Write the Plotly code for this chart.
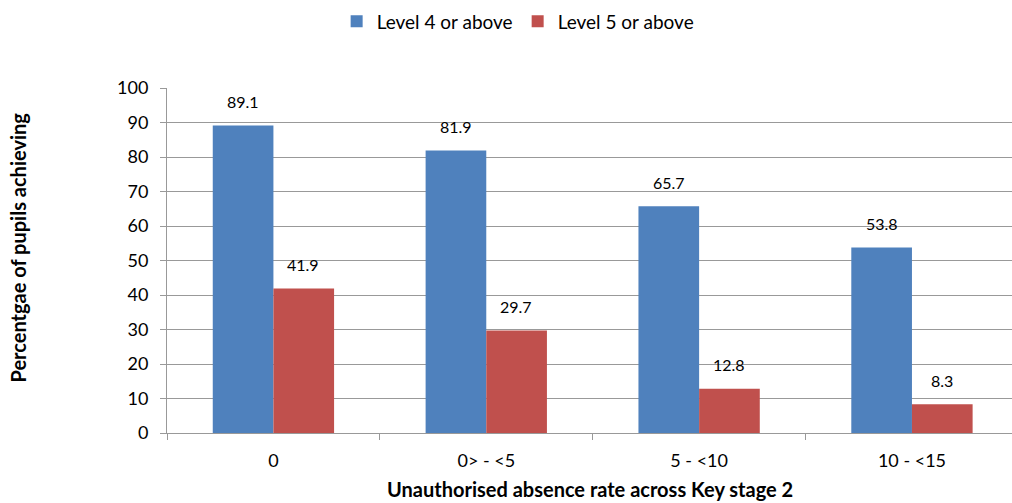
import plotly.graph_objects as go

categories = ["0", "0> - <5", "5 - <10", "10 - <15"]
level4 = [89.1, 81.9, 65.7, 53.8]
level5 = [41.9, 29.7, 12.8, 8.3]
series_names = ["Level 4 or above", "Level 5 or above"]
colors = ["#4F81BD", "#C0504D"]
x_title = "Unauthorised absence rate across Key stage 2"
y_title = "Percentgae of pupils achieving"

FONT = "Lato, Open Sans, sans-serif"

fig = go.Figure()
for name, vals, col in zip(series_names, [level4, level5], colors):
    fig.add_trace(go.Bar(x=categories, y=vals, name=name, marker_color=col,
                         marker_line_width=0))

for vals, xs in [(level4, -30), (level5, 30)]:
    for c, v in zip(categories, vals):
        fig.add_annotation(x=c, y=v, text=f"{v}", showarrow=False,
                           xshift=xs, yshift=24, font=dict(size=16, color="#000"))

# axis titles
fig.add_annotation(text=f"<b>{x_title}</b>", xref="paper", yref="paper",
                   x=0.5, y=0, xanchor="center", yanchor="middle", yshift=-56,
                   showarrow=False, font=dict(size=20))
fig.add_annotation(text=f"<b>{y_title}</b>", xref="paper", yref="paper",
                   x=0, y=0.5, xanchor="center", yanchor="middle",
                   xshift=-150, yshift=13, textangle=-90,
                   showarrow=False, font=dict(size=20))

fig.update_layout(
    width=1012, height=503,
    margin=dict(l=167, r=0, t=88, b=70, autoexpand=False),
    paper_bgcolor="white", plot_bgcolor="white",
    font=dict(family=FONT, size=18, color="#000"),
    barmode="group", bargap=0.43, bargroupgap=0,
    legend=dict(orientation="h", x=0.512, xref="container", xanchor="center",
                y=0.995, yref="container", yanchor="top",
                font=dict(size=19), traceorder="normal"),
    showlegend=True,
)
fig.update_xaxes(
    range=[-0.5, 3.47], automargin=False,
    showline=True, linecolor="#999999", linewidth=1,
    ticks="outside", tickson="boundaries", ticklen=6, tickcolor="#999999",
    tickfont=dict(size=18), ticklabelstandoff=11,
)
fig.update_yaxes(
    range=[0, 100], dtick=10, automargin=False,
    showline=True, linecolor="#999999", linewidth=1,
    showgrid=True, gridcolor="#999999", gridwidth=1,
    ticks="outside", ticklen=6, tickcolor="#999999",
    tickfont=dict(size=18), ticklabelstandoff=8,
    zeroline=False,
)

fig.write_html(
    "out.html",
    config={"displayModeBar": False},
    post_script=(
        "document.body.style.margin='0';document.body.style.overflow='hidden';"
        "Plotly.relayout('{plot_id}', {width:1012, height:503});"
    ),
)
